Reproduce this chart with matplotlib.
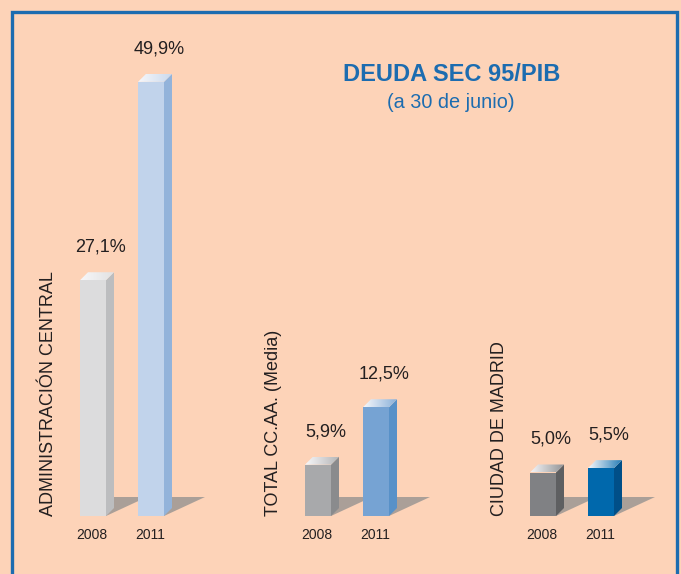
import numpy as np
import matplotlib.pyplot as plt
from matplotlib.patches import Polygon, Rectangle
from matplotlib.colors import to_rgb

plt.rcParams['font.family'] = ['Liberation Sans', 'DejaVu Sans']

# datos
grupos = ['ADMINISTRACIÓN CENTRAL', 'TOTAL CC.AA. (Media)', 'CIUDAD DE MADRID']
anios = ['2008', '2011']
deuda_2008 = [27.1, 5.9, 5.0]
deuda_2011 = [49.9, 12.5, 5.5]

# colores (cara frontal, cara lateral)
col_2008 = [('#DCDCDD', '#BCBDBF'), ('#A8A9AB', '#8A8B8D'), ('#808184', '#5E5F61')]
col_2011 = [('#C1D3EB', '#93B3DA'), ('#76A3D3', '#5891C8'), ('#0068AC', '#004F88')]

fondo = '#FDD3B8'
azul = '#1C6CB0'
texto = '#231F20'

W, H = 681, 574
px = 8.7            # pixeles por punto de %
base = 516          # fila de la base de las barras
ancho = 26
dx, dy = 8, 8 / px  # profundidad 3D

fig = plt.figure(figsize=(W / 100, H / 100), dpi=100)
fig.patch.set_facecolor(fondo)
ax = fig.add_axes([0, 0, 1, 1])
ax.set_xlim(0, W)
ax.set_ylim(-(H - base) / px, base / px)
ax.axis('off')

# marco azul
ax.add_patch(Rectangle((11.5, -(H - base) / px - 2), 665, (base - 11.5) / px + (H - base) / px + 2,
                       fill=False, ec=azul, lw=2.4, zorder=1))


def barra3d(x, v, cara, lado):
    b = ax.bar(x, v, width=ancho, align='edge', color=cara, zorder=3)[0]
    x0, x1 = b.get_x(), b.get_x() + b.get_width()
    top = b.get_height()
    # sombra en el suelo
    ax.add_patch(Polygon([(x1, 0), (x1 + 41, 19 / px), (x1, 19 / px)],
                         closed=True, fc='#8E8E8E', ec='none', alpha=0.75, zorder=2))
    # cara lateral
    ax.add_patch(Polygon([(x1, 0), (x1 + dx, dy), (x1 + dx, top + dy), (x1, top)],
                         closed=True, fc=lado, ec='none', zorder=3))
    # cara superior con degradado
    tapa = Polygon([(x0, top), (x0 + dx, top + dy), (x1 + dx, top + dy), (x1, top)],
                   closed=True, fc='none', ec='none', zorder=4)
    ax.add_patch(tapa)
    c = np.array(to_rgb(cara))
    t = np.linspace(0, 1, 64)[None, :, None]
    grad = (1 - t) * np.array([0.97, 0.97, 0.98]) + t * (0.85 * c + 0.15)
    im = ax.imshow(grad, extent=(x0, x1 + dx, top, top + dy), aspect='auto',
                   origin='lower', zorder=4, interpolation='bilinear')
    im.set_clip_path(tapa)
    return x0, x1, top


x_grupo = [80, 305, 530]
for i, g in enumerate(grupos):
    for j, (serie, cols) in enumerate([(deuda_2008, col_2008), (deuda_2011, col_2011)]):
        v = serie[i]
        x0, x1, top = barra3d(x_grupo[i] + 58 * j, v, cols[i][0], cols[i][1])
        ax.text((x0 + x1) / 2 + 8, top + 33 / px, f'{v:.1f}'.replace('.', ',') + '%',
                ha='center', va='center', fontsize=13, color=texto, zorder=5)
        ax.text((x0 + x1) / 2 - 1, -19 / px, anios[j], ha='center', va='center',
                fontsize=10, color=texto, zorder=5)
    ax.text(x_grupo[i] - 31, 0, g, rotation=90, ha='center', va='bottom',
            fontsize=13, color=texto, zorder=5)

ax.text(452, (base - 75) / px, 'DEUDA SEC 95/PIB', ha='center', va='center',
        fontsize=17, fontweight='bold', color=azul)
ax.text(451, (base - 102) / px, '(a 30 de junio)', ha='center', va='center',
        fontsize=14.3, color=azul)

fig.savefig('out.png', dpi=100, facecolor=fondo)
